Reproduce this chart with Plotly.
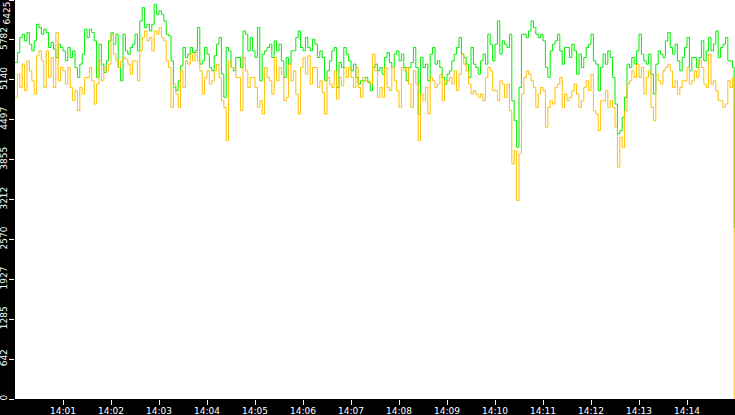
import plotly.graph_objs as go
import pandas as pd

# samples every 3 s from 14:00:00, one row per minute, plus the closing sample
green = [
    5419, 5579, 5820, 5874, 5767, 5900, 5713, 5606, 5767, 6034, 5981, 5874, 5954, 5900, 5660, 5740, 5633, 5499, 5713, 5660,
    5606, 5445, 5660, 5499, 5606, 5338, 5178, 5392, 5553, 5954, 5820, 5954, 5900, 5767, 5178, 5713, 5392, 5258, 5445, 5767,
    5900, 5713, 5874, 5338, 5124, 5874, 5606, 5553, 5660, 5713, 5874, 5606, 6088, 6302, 5981, 6034, 5927, 6034, 6355, 6195,
    6248, 6195, 6088, 5874, 5847, 5445, 5017, 4964, 5124, 5365, 5660, 5499, 5553, 5660, 5579, 5606, 5981, 5392, 5445, 5660,
    5553, 5338, 5285, 5526, 5713, 5820, 5231, 4857, 5660, 5606, 5338, 5285, 5499, 5499, 5338, 5927, 5874, 5606, 5820, 5606,
    5499, 5981, 5124, 5553, 5606, 5660, 5713, 5499, 5767, 5606, 5713, 5445, 5178, 5499, 5392, 5606, 5606, 5820, 5927, 5660,
    5606, 5820, 5660, 5606, 5793, 5713, 5499, 5606, 5499, 5124, 5285, 5445, 5606, 5660, 5017, 5419, 5338, 5660, 5553, 5445,
    5285, 5392, 5178, 5071, 5124, 5124, 5178, 5097, 4964, 5338, 5392, 5285, 5338, 5231, 5499, 5579, 5419, 5338, 5553, 5606,
    5445, 5553, 5338, 5124, 5338, 5419, 5660, 5338, 4589, 5499, 5338, 5392, 5124, 5553, 5660, 5392, 5445, 5338, 5178, 5071,
    5231, 5285, 5445, 5553, 5660, 5820, 5553, 5499, 5392, 5178, 5660, 5392, 5338, 5231, 5445, 5553, 5392, 5874, 5713, 5445,
    5713, 6088, 5553, 5767, 5713, 5660, 5874, 4803, 4482, 4054, 5017, 5874, 5874, 5820, 5927, 6088, 5981, 5874, 5820, 5874,
    5767, 5338, 5178, 5606, 5713, 5767, 5874, 5606, 5392, 5660, 5660, 5499, 5713, 5606, 5231, 5553, 5338, 5499, 5660, 5713,
    5874, 5445, 5392, 4964, 5338, 5553, 5392, 5606, 5499, 5178, 4750, 4268, 4321, 4535, 4857, 5392, 5338, 5499, 5392, 5606,
    5874, 5553, 5445, 5392, 5553, 5231, 4910, 5392, 5606, 5553, 5499, 5767, 5900, 5660, 5553, 5713, 5445, 5285, 5499, 5660,
    5820, 5285, 5499, 5499, 5338, 5499, 5767, 5445, 5606, 5820, 5606, 5713, 5927, 5499, 5660, 5713, 5820, 5445, 5445, 5338,
    2750,
]

orange = [
    4857, 5231, 5017, 5392, 4964, 5445, 5285, 5124, 4910, 5526, 5606, 5445, 5017, 5606, 5178, 5499, 5017, 5900, 5124, 5338,
    5285, 5071, 5338, 5017, 4803, 4964, 4643, 5017, 4910, 5178, 5178, 5338, 5124, 4750, 5071, 5445, 5124, 5338, 5285, 5392,
    5874, 5553, 5445, 5338, 5445, 5499, 5472, 5392, 5231, 5445, 5445, 5124, 5606, 5820, 5927, 5767, 5820, 5606, 5927, 5874,
    5981, 5820, 5767, 5445, 5338, 4696, 5071, 4910, 4696, 5285, 5017, 5445, 5392, 5553, 5445, 5579, 5445, 5285, 4910, 5178,
    5285, 5071, 5124, 5285, 5392, 5178, 4803, 4696, 4161, 5445, 5338, 5338, 5178, 5178, 4643, 5499, 5285, 5017, 5178, 5178,
    5017, 4696, 4803, 4589, 5338, 5178, 5124, 4910, 5499, 5124, 5338, 5231, 4803, 4857, 5392, 5124, 5285, 4910, 4589, 5338,
    5499, 5231, 5526, 5071, 5338, 5338, 5017, 5124, 4937, 4589, 5178, 5071, 5017, 5285, 4830, 5178, 5044, 5338, 5178, 5338,
    5178, 5017, 5338, 5017, 4857, 5178, 5124, 5124, 5071, 5553, 5285, 4857, 5017, 4857, 5338, 5017, 4964, 5338, 5124, 4964,
    4696, 5338, 5285, 5338, 5071, 4696, 5285, 5071, 4161, 4910, 4803, 5017, 4589, 5178, 5124, 5017, 5071, 5231, 4803, 5124,
    5124, 5178, 5071, 5285, 4964, 5231, 5553, 5392, 5285, 5071, 4910, 4964, 4910, 4857, 4910, 4803, 5178, 5338, 5285, 4964,
    4964, 4803, 5124, 5071, 4857, 5071, 4643, 3786, 4000, 3197, 3947, 4910, 5178, 5285, 5231, 5124, 5017, 4696, 4910, 5017,
    4964, 4375, 4696, 4803, 4750, 5017, 5071, 5178, 4696, 4910, 4803, 4857, 4964, 5071, 4910, 4696, 4803, 5017, 5124, 4964,
    5231, 4643, 4589, 4321, 4803, 4803, 4964, 4696, 4803, 4696, 4375, 3732, 4214, 4054, 4643, 5071, 5124, 5285, 5178, 5392,
    5178, 5338, 4910, 5178, 5285, 4696, 4482, 5231, 5124, 5071, 5285, 5338, 5392, 5285, 5017, 5124, 4910, 5017, 5124, 5124,
    5338, 5071, 5124, 5285, 5178, 5445, 5338, 5071, 5017, 5553, 5071, 5124, 4964, 4803, 4803, 4696, 4750, 5124, 5017, 5178,
    0,
]

y_ticks = [0, 642.5, 1285, 1927.5, 2570, 3212.5, 3855, 4497.5, 5140, 5782.5, 6425]
y_labels = ['0', '642', '1285', '1927', '2570', '3212', '3855', '4497', '5140', '5782', '']
top_label = '6425'
x_labels = ['14:01', '14:02', '14:03', '14:04', '14:05', '14:06', '14:07',
            '14:08', '14:09', '14:10', '14:11', '14:12', '14:13', '14:14']

day = '2024-01-01 '
start = pd.Timestamp(day + '14:00:00')
times = [start + pd.Timedelta(seconds=3 * i) for i in range(len(green) - 1)]
times.append(pd.Timestamp(day + '14:14:59'))
x_ticks = [pd.Timestamp(day + t + ':00') for t in x_labels]

fig = go.Figure()
fig.add_trace(go.Scatter(x=times, y=green, mode='lines',
                         line=dict(color='#00ee00', width=1, shape='hv')))
fig.add_trace(go.Scatter(x=times, y=orange, mode='lines',
                         line=dict(color='#ffc000', width=1, shape='hv')))

# top y label would be cut by the page edge, so it sits just below its tick
fig.add_annotation(x=0, xref='paper', xanchor='center', xshift=-9,
                   y=6425, yref='y', yanchor='top',
                   text=top_label, textangle=-90, showarrow=False,
                   font=dict(family='DejaVu Sans', size=9, color='white'))

fig.update_layout(
    width=735,
    height=415,
    showlegend=False,
    paper_bgcolor='black',
    plot_bgcolor='white',
    margin=dict(l=15, r=0, t=0, b=16, pad=0),
    font=dict(family='DejaVu Sans', size=9, color='white'),
    xaxis=dict(
        range=[start, pd.Timestamp(day + '14:15:00')],
        tickvals=x_ticks,
        ticktext=x_labels,
        ticks='outside', ticklen=5, tickcolor='white', tickwidth=1,
        showgrid=False, zeroline=False, showline=False,
        automargin=False, ticklabelstandoff=-2,
    ),
    yaxis=dict(
        range=[0, 6425],
        tickvals=y_ticks,
        ticktext=y_labels,
        tickangle=-90,
        ticks='outside', ticklen=5, tickcolor='white', tickwidth=1,
        showgrid=False, zeroline=False, showline=False,
        automargin=False, ticklabelstandoff=-2,
    ),
)

fig.write_html("out.html", config={'displayModeBar': False},
               post_script="document.body.style.margin='0';")
